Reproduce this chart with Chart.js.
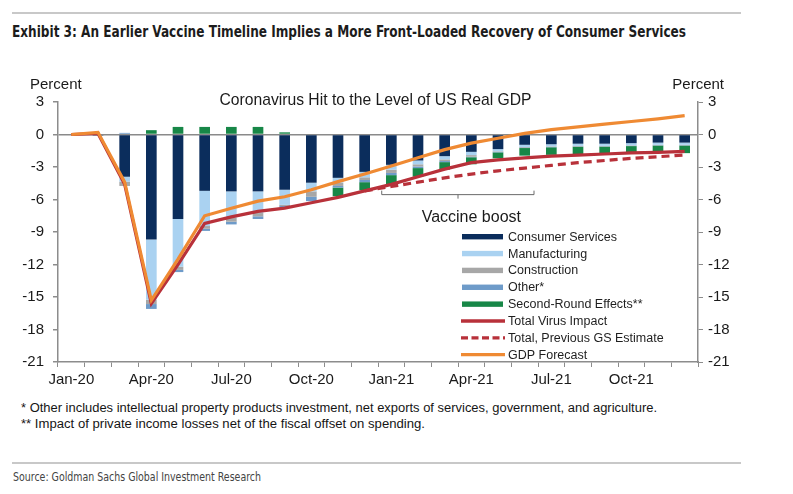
<!DOCTYPE html>
<html>
<head>
<meta charset="utf-8">
<script src="https://cdn.jsdelivr.net/npm/chart.js@4.4.0/dist/chart.umd.min.js"></script>
<style>
  html,body{margin:0;padding:0;background:#fff;}
  body{width:793px;height:494px;overflow:hidden;position:relative;font-family:"Liberation Sans",Arial,sans-serif;}
  .rule{position:absolute;left:12px;width:729px;height:2px;background:#c8c8c8;}
  .fit{position:absolute;white-space:nowrap;transform-origin:0 50%;line-height:1;}
  #hdr{left:12px;top:24px;font-weight:bold;font-size:16px;font-family:"Liberation Sans Narrow","DejaVu Sans Condensed","Liberation Sans",sans-serif;color:#1c1c1c;}
  #fn1{left:21px;top:402px;font-size:12.5px;color:#151515;}
  #fn2{left:21px;top:418px;font-size:12.5px;color:#151515;}
  #src{left:13px;top:472px;font-size:11.5px;font-family:"Liberation Sans Narrow","DejaVu Sans Condensed","Liberation Sans",sans-serif;color:#444;}
  #wrap{position:absolute;left:0;top:60px;width:793px;height:340px;}
</style>
</head>
<body>
<div class="rule" style="top:12px"></div>
<div class="fit" id="hdr" data-w="674">Exhibit 3: An Earlier Vaccine Timeline Implies a More Front-Loaded Recovery of Consumer Services</div>
<div id="wrap"><canvas id="c" width="793" height="340"></canvas></div>
<div class="fit" id="fn1" data-w="636">* Other includes intellectual property products investment, net exports of services, government, and agriculture.</div>
<div class="fit" id="fn2" data-w="404">** Impact of private income losses net of the fiscal offset on spending.</div>
<div class="rule" style="top:462px"></div>
<div class="fit" id="src" data-w="248">Source: Goldman Sachs Global Investment Research</div>
<script>
// ---------------- DATA ----------------
const months = ['Jan-20','Feb-20','Mar-20','Apr-20','May-20','Jun-20','Jul-20','Aug-20','Sep-20','Oct-20','Nov-20','Dec-20',
                'Jan-21','Feb-21','Mar-21','Apr-21','May-21','Jun-21','Jul-21','Aug-21','Sep-21','Oct-21','Nov-21','Dec-21'];
const shownMonthLabels = ['Jan-20','Apr-20','Jul-20','Oct-20','Jan-21','Apr-21','Jul-21','Oct-21'];

const consumerServices = [null,-0.1,-3.9,-9.7,-7.8,-5.2,-5.25,-5.25,-5.1,-4.45,-4.0,-3.45,-2.8,-2.4,-2.0,-1.6,-1.35,-0.95,-0.9,-0.85,-0.85,-0.8,-0.75,-0.75];
const manufacturing    = [null,0,-0.45,-5.55,-4.4,-3.25,-2.45,-2.0,-1.4,-0.8,-0.45,-0.5,-0.45,-0.35,-0.3,-0.3,-0.2,-0.2,-0.2,-0.2,-0.2,-0.2,-0.2,-0.2];
const construction     = [null,0,-0.4,-0.4,-0.3,-0.25,-0.35,-0.3,-0.1,-0.5,-0.3,-0.25,-0.3,-0.2,-0.15,-0.15,-0.05,-0.05,-0.05,-0.05,-0.04,-0.04,-0.04,-0.04];
const otherSectors     = [null,0,0.15,-0.45,-0.2,-0.2,-0.25,-0.25,-0.1,-0.4,-0.15,-0.2,-0.2,-0.15,-0.1,-0.05,-0.05,-0.05,-0.03,-0.03,-0.03,-0.03,-0.03,-0.03];
const secondRound      = [null,0,0,0.4,0.7,0.7,0.7,0.7,0.2,0,-0.8,-0.75,-0.85,-0.8,-0.7,-0.65,-0.55,-0.7,-0.7,-0.67,-0.62,-0.65,-0.68,-0.7];

const totalVirusImpact = [0,0.1,-4.6,-15.6,-12.0,-8.2,-7.6,-7.1,-6.8,-6.3,-5.8,-5.2,-4.6,-3.9,-3.2,-2.6,-2.35,-2.15,-2.0,-1.9,-1.8,-1.7,-1.65,-1.55];
const previousGSEstimate = [null,null,null,null,null,null,null,null,null,null,null,-5.2,-4.8,-4.4,-4.0,-3.65,-3.35,-3.1,-2.85,-2.6,-2.4,-2.2,-2.05,-1.9];
const gdpForecast      = [0,0.2,-4.4,-15.3,-11.5,-7.5,-6.8,-6.15,-5.75,-5.1,-4.35,-3.65,-2.9,-2.15,-1.4,-0.8,-0.35,0.1,0.45,0.7,0.95,1.2,1.45,1.75];

const yMin = -21, yMax = 3, yStep = 3;
// Vaccine-boost bracket (category index positions, value level)
const vaccineBoost = {from: 11.64, mid: 14.5, to: 17.35, level: -5.55, label: 'Vaccine boost', labelAt: 15.0, labelLevel: -7.65};

// ---------------- CHART ----------------
const TOP = 60; // canvas offset in page
const FONT = '"Liberation Sans", Arial, sans-serif';

function barDs(label, data, color){
  return {type:'bar', label, data, backgroundColor: color, stack:'bars', order: 4,
          barPercentage: 0.4, categoryPercentage: 1.0, borderWidth: 0};
}

const datasets = [
  barDs('Consumer Services', consumerServices, '#0b2d5c'),
  barDs('Manufacturing', manufacturing, '#aad2f1'),
  barDs('Construction', construction, '#a7a7a7'),
  barDs('Other*', otherSectors, '#6e9bc9'),
  barDs('Second-Round Effects**', secondRound, '#178747'),
  {type:'line', label:'Total Virus Impact', data: totalVirusImpact, borderColor:'#b8313a', borderWidth:3.2,
   pointRadius:0, tension:0, stack:'l1', order:2, fill:false},
  {type:'line', label:'Total, Previous GS Estimate', data: previousGSEstimate, borderColor:'#b8313a', borderWidth:3.2,
   borderDash:[8,5], pointRadius:0, tension:0, stack:'l2', order:3, fill:false},
  {type:'line', label:'GDP Forecast', data: gdpForecast, borderColor:'#ef8a33', borderWidth:3.2,
   pointRadius:0, tension:0, stack:'l3', order:1, fill:false}
];

const overlayPlugin = {
  id: 'overlay',
  afterDraw(chart){
    const ctx = chart.ctx, x = chart.scales.x, y = chart.scales.y;
    ctx.save();
    // axis captions
    ctx.fillStyle = '#1a1a1a';
    ctx.font = '15px ' + FONT;
    ctx.textBaseline = 'middle';
    ctx.textAlign = 'left';
    ctx.fillText('Percent', 30, 85 - TOP);
    ctx.textAlign = 'right';
    ctx.fillText('Percent', 724, 85 - TOP);
    // inner title
    ctx.textAlign = 'center';
    ctx.font = '15.7px ' + FONT;
    ctx.fillText('Coronavirus Hit to the Level of US Real GDP', 375.5, 100.5 - TOP);

    // vaccine boost bracket
    const x1 = x.getPixelForValue(vaccineBoost.from), x2 = x.getPixelForValue(vaccineBoost.to);
    const xm = x.getPixelForValue(vaccineBoost.mid), yb = y.getPixelForValue(vaccineBoost.level);
    ctx.strokeStyle = '#6a6a6a'; ctx.lineWidth = 1;
    ctx.beginPath();
    ctx.moveTo(x1, yb - 4); ctx.lineTo(x1, yb); ctx.lineTo(x2, yb); ctx.lineTo(x2, yb - 4);
    ctx.moveTo(xm, yb); ctx.lineTo(xm, yb + 4);
    ctx.stroke();
    ctx.font = '16px ' + FONT;
    ctx.fillStyle = '#1a1a1a';
    ctx.fillText(vaccineBoost.label, x.getPixelForValue(vaccineBoost.labelAt), y.getPixelForValue(vaccineBoost.labelLevel));

    // legend
    const sx = 462, sw = 41, tx = 508, y0 = 236.7 - TOP, dy = 16.86;
    ctx.textAlign = 'left';
    ctx.font = '12.5px ' + FONT;
    chart.data.datasets.forEach((ds, i) => {
      const yy = y0 + i * dy;
      if (ds.type === 'bar') {
        ctx.fillStyle = ds.backgroundColor;
        ctx.fillRect(sx, yy - 2.7, sw, 5.4);
      } else {
        ctx.strokeStyle = ds.borderColor;
        ctx.lineWidth = 3.3;
        ctx.setLineDash(ds.borderDash ? [7, 3.5] : []);
        ctx.beginPath(); ctx.moveTo(sx - 1, yy); ctx.lineTo(sx + sw + 2, yy); ctx.stroke();
        ctx.setLineDash([]);
      }
      ctx.fillStyle = '#1e1e1e';
      ctx.fillText(ds.label, tx, yy + 0.5);
    });
    ctx.restore();
  }
};

const axisColor = '#8c8c8c';
const tickFont = {family: FONT, size: 15};

new Chart(document.getElementById('c'), {
  data: {labels: months, datasets},
  options: {
    responsive: false,
    animation: false,
    layout: {padding: {top: 102 - TOP, left: 0, right: 0, bottom: 0}},
    plugins: {legend: {display: false}, tooltip: {enabled: false}, title: {display: false}},
    scales: {
      x: {
        type: 'category', offset: true, stacked: true,
        grid: {offset: true, drawOnChartArea: false, drawTicks: true, tickLength: 5, tickColor: axisColor, color: axisColor},
        border: {color: axisColor, width: 1.5},
        ticks: {autoSkip: false, maxRotation: 0, minRotation: 0, padding: 4, color: '#1a1a1a', font: tickFont,
                callback: (v, i) => shownMonthLabels.includes(months[i]) ? months[i] : ''},
        afterFit: s => { s.height = 38; }
      },
      y: {
        position: 'left', stacked: true, min: yMin, max: yMax,
        ticks: {stepSize: yStep, padding: 9, color: '#1a1a1a', font: tickFont},
        grid: {drawOnChartArea: true, drawTicks: true, tickLength: 5, tickColor: axisColor, lineWidth: 1.5,
               color: c => (c.tick && c.tick.value === 0) ? '#8a8a8a' : 'rgba(0,0,0,0)'},
        border: {color: axisColor, width: 1.5},
        afterFit: s => { s.width = 58; }
      },
      y2: {
        position: 'right', min: yMin, max: yMax,
        ticks: {stepSize: yStep, padding: 5, color: '#1a1a1a', font: tickFont},
        grid: {drawOnChartArea: false, drawTicks: true, tickLength: 5, tickColor: axisColor},
        border: {color: axisColor, width: 1.5},
        afterFit: s => { s.width = 793 - 698; }
      }
    }
  },
  plugins: [overlayPlugin]
});

// fit HTML text lines to their measured widths in the reference
document.querySelectorAll('.fit').forEach(el => {
  const target = parseFloat(el.dataset.w);
  const w = el.getBoundingClientRect().width;
  if (w > 0) el.style.transform = 'scaleX(' + (target / w) + ')';
});
</script>
</body>
</html>
